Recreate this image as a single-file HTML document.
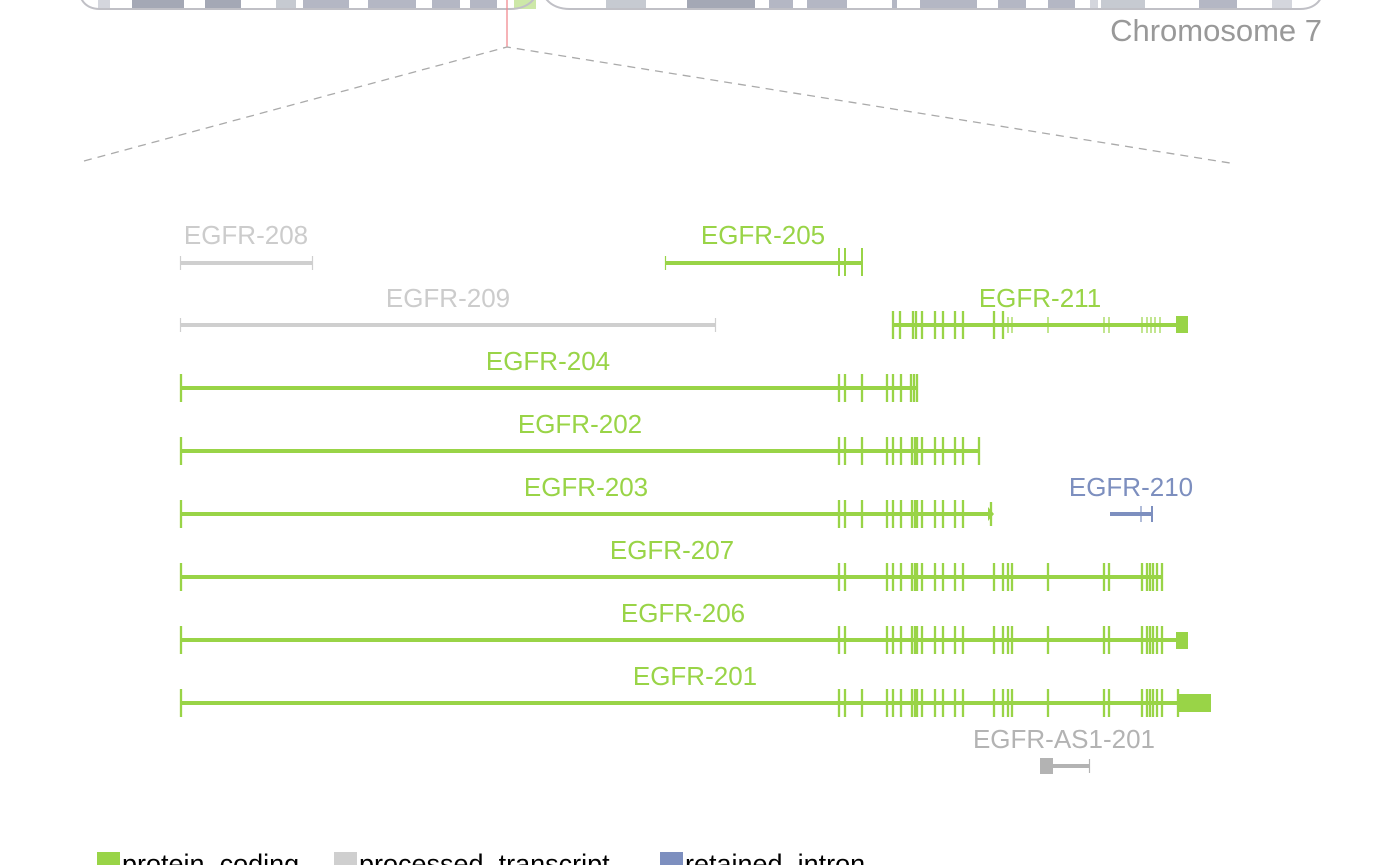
<!DOCTYPE html>
<html><head><meta charset="utf-8"><style>
html,body{margin:0;padding:0;background:#fff;width:1400px;height:865px;overflow:hidden}
svg{display:block}
text{font-family:"Liberation Sans",sans-serif}
</style></head><body>
<svg width="1400" height="865" viewBox="0 0 1400 865" xmlns="http://www.w3.org/2000/svg">
<g>
<rect x="98" y="-2" width="12" height="11" fill="#d4d6dd"/>
<rect x="132" y="-2" width="52" height="11" fill="#a4a8b5"/>
<rect x="205" y="-2" width="36" height="11" fill="#a4a8b5"/>
<rect x="276" y="-2" width="20" height="11" fill="#c6cad1"/>
<rect x="303" y="-2" width="46" height="11" fill="#b4b7c4"/>
<rect x="368" y="-2" width="48" height="11" fill="#b4b7c4"/>
<rect x="432" y="-2" width="28" height="11" fill="#b4b7c4"/>
<rect x="470" y="-2" width="27" height="11" fill="#b4b7c4"/>
<rect x="514" y="-2" width="22" height="11" fill="#cde8a8"/>
<rect x="606" y="-2" width="40" height="11" fill="#c6cad1"/>
<rect x="687" y="-2" width="68" height="11" fill="#a4a8b5"/>
<rect x="769" y="-2" width="24" height="11" fill="#b4b7c4"/>
<rect x="807" y="-2" width="40" height="11" fill="#b4b7c4"/>
<rect x="892" y="-2" width="5" height="11" fill="#b4b7c4"/>
<rect x="920" y="-2" width="57" height="11" fill="#b4b7c4"/>
<rect x="998" y="-2" width="28" height="11" fill="#b4b7c4"/>
<rect x="1048" y="-2" width="27" height="11" fill="#b4b7c4"/>
<rect x="1090" y="-2" width="8" height="11" fill="#d4d6dd"/>
<rect x="1101" y="-2" width="44" height="11" fill="#c6cad1"/>
<rect x="1199" y="-2" width="38" height="11" fill="#b4b7c4"/>
<rect x="1272" y="-2" width="20" height="11" fill="#d4d6dd"/>
<path d="M80 -4 Q85 9 100 9 H510 Q528 9 536 -4 M544 -4 Q552 9 570 9 H1300 Q1316 9 1322 -4" fill="none" stroke="#c0c0c6" stroke-width="2"/>
</g>
<text x="1322" y="41" font-size="31" fill="#999" text-anchor="end">Chromosome 7</text>
<line x1="507" y1="0" x2="507" y2="47" stroke="#f08a90" stroke-width="1.3"/>
<path d="M84 161 L507 47 L1230 163" fill="none" stroke="#aaa" stroke-width="1.3" stroke-dasharray="8,6"/>

<g font-size="26" text-anchor="middle">
<text x="246" y="244" fill="#ccc">EGFR-208</text>
<text x="763" y="244" fill="#99d447">EGFR-205</text>
<text x="448" y="307" fill="#ccc">EGFR-209</text>
<text x="1040" y="307" fill="#99d447">EGFR-211</text>
<text x="548" y="370" fill="#99d447">EGFR-204</text>
<text x="580" y="433" fill="#99d447">EGFR-202</text>
<text x="586" y="496" fill="#99d447">EGFR-203</text>
<text x="1131" y="496" fill="#7d8fbf">EGFR-210</text>
<text x="672" y="559" fill="#99d447">EGFR-207</text>
<text x="683" y="622" fill="#99d447">EGFR-206</text>
<text x="695" y="685" fill="#99d447">EGFR-201</text>
<text x="1064" y="748" fill="#b3b3b3">EGFR-AS1-201</text>
</g>

<g stroke="#cfcfcf" fill="none">
<line x1="180" y1="263" x2="313" y2="263" stroke-width="4"/>
<path d="M180.5 256 v14 M312.5 256 v14" stroke-width="1.2"/>
<line x1="180" y1="325" x2="716" y2="325" stroke-width="4"/>
<path d="M180.5 318 v14 M715.5 318 v14" stroke-width="1.2"/>
</g>
<g stroke="#99d447" fill="none">
<line x1="665" y1="263" x2="862" y2="263" stroke-width="4"/>
<path d="M839 248 v28 M845 248 v28 M862 248 v28" stroke-width="2"/>
<path d="M665.5 256 v14" stroke-width="1.2"/>
<line x1="893" y1="325" x2="1180" y2="325" stroke-width="4"/>
<path d="M893 311 v28 M900 311 v28 M913 311 v28 M916 311 v28 M922 311 v28 M935 311 v28 M943 311 v28 M955 311 v28 M963 311 v28 M994 311 v28 M1003 311 v28" stroke-width="2.3"/>
<path d="M1008 317 v16 M1012 317 v16 M1048 317 v16 M1104 317 v16 M1109 317 v16 M1142 317 v16 M1147 317 v16 M1151 317 v16 M1155 317 v16 M1160 317 v16" stroke-width="1.2"/>
<rect x="1176" y="316" width="12" height="17" fill="#99d447" stroke="none"/>
</g>
<g stroke="#99d447" fill="none" stroke-width="2.3">
<line x1="180" y1="388" x2="916" y2="388" stroke-width="4"/>
<path d="M181 374 v28 M839 374 v28 M845 374 v28 M862 374 v28 M887 374 v28 M893 374 v28 M901 374 v28 M911 374 v28 M914 374 v28 M917 374 v28"/>
<line x1="180" y1="451" x2="980" y2="451" stroke-width="4"/>
<path d="M181 437 v28 M839 437 v28 M845 437 v28 M862 437 v28 M887 437 v28 M893 437 v28 M901 437 v28 M912 437 v28 M915 437 v28 M917 437 v28 M922 437 v28 M935 437 v28 M943 437 v28 M955 437 v28 M963 437 v28 M979 437 v28"/>
<line x1="180" y1="514" x2="992" y2="514" stroke-width="4"/>
<path d="M181 500 v28 M839 500 v28 M845 500 v28 M862 500 v28 M887 500 v28 M893 500 v28 M901 500 v28 M912 500 v28 M915 500 v28 M917 500 v28 M922 500 v28 M935 500 v28 M943 500 v28 M955 500 v28 M963 500 v28 M991 502 v24"/>
<path d="M988 507 L994 514 L988 521 Z" fill="#99d447" stroke="none"/>
<line x1="180" y1="577" x2="1163" y2="577" stroke-width="4"/>
<path d="M181 563 v28 M839 563 v28 M845 563 v28 M887 563 v28 M893 563 v28 M901 563 v28 M912 563 v28 M915 563 v28 M917 563 v28 M922 563 v28 M935 563 v28 M943 563 v28 M955 563 v28 M963 563 v28 M994 563 v28 M1003 563 v28 M1008 563 v28 M1012 563 v28 M1048 563 v28 M1104 563 v28 M1109 563 v28 M1142 563 v28 M1147 563 v28 M1150 563 v28 M1153 563 v28 M1157 563 v28 M1162 563 v28"/>
<line x1="180" y1="640" x2="1180" y2="640" stroke-width="4"/>
<path d="M181 626 v28 M839 626 v28 M845 626 v28 M887 626 v28 M893 626 v28 M901 626 v28 M912 626 v28 M915 626 v28 M917 626 v28 M922 626 v28 M935 626 v28 M943 626 v28 M955 626 v28 M963 626 v28 M994 626 v28 M1003 626 v28 M1008 626 v28 M1012 626 v28 M1048 626 v28 M1104 626 v28 M1109 626 v28 M1142 626 v28 M1147 626 v28 M1150 626 v28 M1153 626 v28 M1157 626 v28 M1162 626 v28"/>
<rect x="1176" y="632" width="12" height="17" fill="#99d447" stroke="none"/>
<line x1="180" y1="703" x2="1180" y2="703" stroke-width="4"/>
<path d="M181 689 v28 M839 689 v28 M845 689 v28 M862 689 v28 M887 689 v28 M893 689 v28 M901 689 v28 M912 689 v28 M915 689 v28 M917 689 v28 M922 689 v28 M935 689 v28 M943 689 v28 M955 689 v28 M963 689 v28 M994 689 v28 M1003 689 v28 M1008 689 v28 M1012 689 v28 M1048 689 v28 M1104 689 v28 M1109 689 v28 M1142 689 v28 M1147 689 v28 M1150 689 v28 M1153 689 v28 M1157 689 v28 M1162 689 v28 M1178 689 v28"/>
<rect x="1178" y="694" width="33" height="18" fill="#99d447" stroke="none"/>
</g>
<g stroke="#7d8fbf" fill="none">
<line x1="1110" y1="514" x2="1152" y2="514" stroke-width="4"/>
<path d="M1141 506 v16" stroke-width="1.2"/>
<path d="M1152 506 v16" stroke-width="2"/>
</g>
<g stroke="#b3b3b3" fill="none">
<line x1="1050" y1="766" x2="1089" y2="766" stroke-width="4"/>
<path d="M1089.5 759 v14" stroke-width="1.2"/>
<rect x="1040" y="758" width="13" height="16" fill="#b3b3b3" stroke="none"/>
</g>
<rect x="97" y="852" width="23" height="20" fill="#99d447"/>
<text x="122" y="873" font-size="27" fill="#000">protein_coding</text>
<rect x="334" y="852" width="23" height="20" fill="#cfcfcf"/>
<text x="359" y="873" font-size="27" fill="#000">processed_transcript</text>
<rect x="660" y="852" width="23" height="20" fill="#7d8fbf"/>
<text x="685" y="873" font-size="27" fill="#000">retained_intron</text>
</svg>
</body></html>
